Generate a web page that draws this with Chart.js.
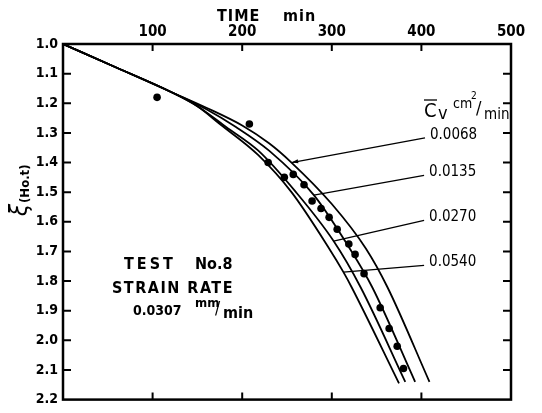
<!DOCTYPE html>
<html>
<head>
<meta charset="utf-8">
<script src="https://cdn.jsdelivr.net/npm/chart.js@4.4.1/dist/chart.umd.min.js"></script>
<style>
  html,body{margin:0;padding:0;background:#fff;}
  #wrap{width:542px;height:413px;}
</style>
</head>
<body>
<div id="wrap"><canvas id="chart" width="542" height="413"></canvas></div>
<script>
// time (min) on top axis, xi(Ho,t) downwards on left axis
var xTicks = [0, 100, 200, 300, 400, 500];
var xTickLabels = ['', '100', '200', '300', '400', '500'];
var yTicks = [1.0, 1.1, 1.2, 1.3, 1.4, 1.5, 1.6, 1.7, 1.8, 1.9, 2.0, 2.1, 2.2];

var cvLabels = ['0.0068', '0.0135', '0.0270', '0.0540'];

// computed curves, one per Cv value: [time, xi]
var curve0068 = [[0,1.0],[60,1.08],[120,1.161],[160,1.215],[200,1.275],[230,1.335],[255,1.40],[300,1.54],[338,1.69],[362,1.82],[409,2.14]];
var curve0135 = [[0,1.0],[60,1.08],[120,1.161],[160,1.22],[193,1.28],[230,1.36],[280,1.51],[320,1.69],[345,1.82],[393,2.14]];
var curve0270 = [[0,1.0],[60,1.08],[120,1.161],[150,1.21],[182,1.28],[218,1.36],[260,1.50],[302,1.665],[332,1.82],[382,2.14]];
var curve0540 = [[0,1.0],[60,1.08],[120,1.161],[150,1.21],[175,1.27],[218,1.375],[255,1.50],[297,1.69],[313,1.77],[322,1.82],[375,2.145]];

// test No.8 measured points
var measured = [[105,1.18],[208,1.27],[229,1.40],[247,1.45],[257,1.44],[269,1.475],[278,1.53],[288,1.555],[297,1.585],[306,1.625],[319,1.675],[326,1.71],[336,1.775],[354,1.89],[364,1.96],[373,2.02],[380,2.095]];

// leader lines: from the Cv label to a point on its curve
var leaderFrom = [[404,1.317],[403,1.443],[403,1.595],[403,1.747]];
var leaderTo = [[255,1.40],[280,1.51],[302,1.665],[313,1.77]];

var fam = "'Liberation Sans Narrow','DejaVu Sans Condensed','Liberation Sans',sans-serif";

function pts(arr){
  return arr.map(function(p){ return {x:p[0], y:p[1]}; });
}

function curveSet(arr){
  return {
    data: pts(arr),
    showLine: true,
    borderColor: '#000',
    borderWidth: 1.8,
    pointRadius: 0,
    cubicInterpolationMode: 'monotone',
    fill: false
  };
}

var notes = {
  id: 'notes',
  afterDraw: function(chart){
    var ctx = chart.ctx, a = chart.chartArea;
    var xs = chart.scales.x, ys = chart.scales.y;
    ctx.save();
    ctx.strokeStyle = '#000';
    ctx.fillStyle = '#000';

    // frame
    ctx.lineWidth = 2.5;
    ctx.strokeRect(a.left, a.top, a.right - a.left, a.bottom - a.top);

    // inward ticks on all four sides
    ctx.lineWidth = 2;
    ctx.beginPath();
    xTicks.forEach(function(v){
      if(v <= xTicks[0] || v >= xTicks[xTicks.length-1]) return;
      var px = xs.getPixelForValue(v);
      ctx.moveTo(px, a.top); ctx.lineTo(px, a.top + 7);
      ctx.moveTo(px, a.bottom); ctx.lineTo(px, a.bottom - 7);
    });
    yTicks.forEach(function(v, i){
      if(i == 0 || i == yTicks.length-1) return;
      var py = ys.getPixelForValue(v);
      ctx.moveTo(a.left, py); ctx.lineTo(a.left + 8, py);
      ctx.moveTo(a.right, py); ctx.lineTo(a.right - 8, py);
    });
    ctx.stroke();

    // leader lines + Cv values
    ctx.lineWidth = 1.3;
    ctx.font = '15px ' + fam;
    ctx.textBaseline = 'middle';
    ctx.textAlign = 'left';
    cvLabels.forEach(function(lab, i){
      var sx = xs.getPixelForValue(leaderFrom[i][0]);
      var sy = ys.getPixelForValue(leaderFrom[i][1]);
      var ex = xs.getPixelForValue(leaderTo[i][0]);
      var ey = ys.getPixelForValue(leaderTo[i][1]);
      ctx.beginPath();
      ctx.moveTo(sx, sy); ctx.lineTo(ex, ey);
      ctx.stroke();
      if(i == 0){
        var ang = Math.atan2(ey - sy, ex - sx);
        ctx.beginPath();
        ctx.moveTo(ex, ey);
        ctx.lineTo(ex - 7*Math.cos(ang - 0.3), ey - 7*Math.sin(ang - 0.3));
        ctx.lineTo(ex - 7*Math.cos(ang + 0.3), ey - 7*Math.sin(ang + 0.3));
        ctx.closePath();
        ctx.fill();
      }
      ctx.fillText(lab, sx + 5, sy - 3);
    });

    // Cv cm2/min heading
    ctx.font = '20px ' + fam;
    ctx.fillText('C', 424, 112);
    ctx.font = '18px ' + fam;
    ctx.fillText('v', 438, 114);
    ctx.beginPath();
    ctx.moveTo(424, 100); ctx.lineTo(437, 100);
    ctx.stroke();
    ctx.font = '14px ' + fam;
    ctx.fillText('cm', 453, 104);
    ctx.font = '10px ' + fam;
    ctx.fillText('2', 471, 96);
    ctx.font = '18px ' + fam;
    ctx.fillText('/', 476, 109);
    ctx.font = '15px ' + fam;
    ctx.fillText('min', 484, 115);

    // top title
    ctx.font = 'bold 16px ' + fam;
    ctx.letterSpacing = '1px';
    ctx.fillText('TIME', 217, 17);
    ctx.fillText('min', 283, 17);

    // test info
    ctx.letterSpacing = '3px';
    ctx.fillText('TEST', 124, 265);
    ctx.letterSpacing = '0px';
    ctx.fillText('No.8', 195, 265);
    ctx.letterSpacing = '1.5px';
    ctx.fillText('STRAIN RATE', 112, 289);
    ctx.letterSpacing = '0px';
    ctx.font = 'bold 14px ' + fam;
    ctx.fillText('0.0307', 133, 311);
    ctx.font = 'bold 13px ' + fam;
    ctx.fillText('mm', 195, 304);
    ctx.font = '17px ' + fam;
    ctx.fillText('/', 215, 310);
    ctx.font = 'bold 16px ' + fam;
    ctx.fillText('min', 223, 314);

    // y axis title, rotated
    ctx.save();
    ctx.translate(21, 180);
    ctx.rotate(-Math.PI/2);
    ctx.textAlign = 'left';
    ctx.font = 'italic 24px ' + fam;
    ctx.fillText('\u03be', -36, 0);
    ctx.font = 'bold 13px ' + fam;
    ctx.fillText('(Ho.t)', -23, 5);
    ctx.restore();

    ctx.restore();
  }
};

new Chart(document.getElementById('chart'), {
  type: 'scatter',
  data: {
    datasets: [
      curveSet(curve0068),
      curveSet(curve0135),
      curveSet(curve0270),
      curveSet(curve0540),
      {
        data: pts(measured),
        showLine: false,
        pointRadius: 3.8,
        pointBackgroundColor: '#000',
        pointBorderColor: '#000',
        pointBorderWidth: 0
      }
    ]
  },
  options: {
    responsive: false,
    animation: false,
    devicePixelRatio: 1,
    layout: { padding: { left: 0, top: 0, right: 31, bottom: 6 } },
    plugins: { legend: { display: false }, tooltip: { enabled: false } },
    scales: {
      x: {
        type: 'linear',
        position: 'top',
        min: 0,
        max: 500,
        grid: { display: false, drawTicks: false },
        border: { display: false },
        afterBuildTicks: function(scale){
          scale.ticks = xTicks.map(function(v){ return {value: v}; });
        },
        afterFit: function(scale){ scale.height = 44; },
        ticks: {
          padding: 3,
          color: '#000',
          maxRotation: 0,
          font: { family: fam, size: 15, weight: 'bold' },
          callback: function(v, i){ return xTickLabels[i]; }
        }
      },
      y: {
        type: 'linear',
        reverse: true,
        min: 1.0,
        max: 2.2,
        grid: { display: false, drawTicks: false },
        border: { display: false },
        afterBuildTicks: function(scale){
          scale.ticks = yTicks.map(function(v){ return {value: v}; });
        },
        afterFit: function(scale){ scale.width = 63; },
        ticks: {
          padding: 5,
          color: '#000',
          font: { family: fam, size: 14, weight: 'bold' },
          callback: function(v){ return Number(v).toFixed(1); }
        }
      }
    }
  },
  plugins: [notes]
});
</script>
</body>
</html>
